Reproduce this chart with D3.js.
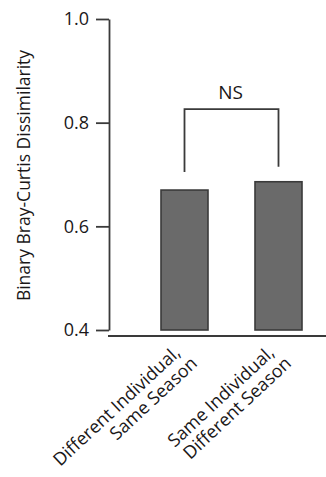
<!DOCTYPE html>
<html>
<head>
<meta charset="utf-8">
<script src="https://cdn.jsdelivr.net/npm/d3@7"></script>
<style>
  html, body { margin: 0; padding: 0; background: #fff; }
  svg { display: block; font-family: "Open Sans", "Noto Sans", sans-serif; font-weight: 500; }
</style>
</head>
<body>
<svg id="chart" width="326" height="477"></svg>
<script>
// Group labels (each split into two lines) and their mean dissimilarity
const categories = ["Different Individual, Same Season", "Same Individual, Different Season"];
const labelLines = [["Different Individual,", "Same Season"], ["Same Individual,", "Different Season"]];
const values = [0.670, 0.686];
const yTicks = [0.4, 0.6, 0.8, 1.0];
const yLabel = "Binary Bray-Curtis Dissimilarity";
// Significance bracket: top level and where each leg stops
const bracketTop = 0.826;
const bracketLegEnds = [0.705, 0.715];
const bracketLabel = "NS";

const ink = "#1a1718";
const lineCol = "#3a3a3a";
const svg = d3.select("#chart");
const W = 326;

const y = d3.scaleLinear().domain([0.4, 1.0]).range([330, 19]);
const x = d3.scaleBand().domain(categories).range([114, 349])
  .paddingInner(0.5).paddingOuter(0.5);

const axisX = 109;
const baseY = 336;

// y axis
const yAxis = svg.append("g")
  .attr("transform", `translate(${axisX},0)`)
  .call(d3.axisLeft(y).tickValues(yTicks).tickFormat(d3.format(".1f"))
    .tickSize(13).tickSizeOuter(0).tickPadding(7));
yAxis.select(".domain").attr("stroke", lineCol).attr("stroke-width", 1.8);
yAxis.selectAll(".tick line").attr("stroke", lineCol).attr("stroke-width", 1.8);
yAxis.selectAll(".tick text").attr("fill", ink).attr("font-size", 18)
  .attr("font-family", "'Open Sans', sans-serif").attr("font-weight", 500);

// y axis title
svg.append("text")
  .attr("transform", `translate(30,${(y.range()[0] + y.range()[1]) / 2 + 1}) rotate(-90)`)
  .attr("text-anchor", "middle")
  .attr("font-size", 17.5)
  .attr("fill", ink)
  .text(yLabel);

// bars
svg.append("g").selectAll("rect")
  .data(categories)
  .join("rect")
  .attr("x", d => x(d))
  .attr("width", x.bandwidth())
  .attr("y", (d, i) => y(values[i]))
  .attr("height", (d, i) => y(0.4) - y(values[i]))
  .attr("fill", "#6a6a6a")
  .attr("stroke", "#3a3a3a")
  .attr("stroke-width", 1.6);

// baseline under the bars
svg.append("line")
  .attr("x1", axisX - 1).attr("x2", W)
  .attr("y1", baseY).attr("y2", baseY)
  .attr("stroke", lineCol).attr("stroke-width", 1.8);

// category labels, rotated
const lab = svg.append("g").selectAll("text")
  .data(categories)
  .join("text")
  .attr("transform", d => `translate(${x(d) + x.bandwidth() / 2 - 3},${baseY + 18}) rotate(-43)`)
  .attr("text-anchor", "end")
  .attr("font-size", 18)
  .attr("fill", ink);
lab.each(function(d, i) {
  const t = d3.select(this);
  labelLines[i].forEach((ln, j) => {
    t.append("tspan").attr("x", j ? 5 : 0).attr("y", j ? "1.08em" : 0).text(ln);
  });
});

// significance bracket
const cx = categories.map(d => x(d) + x.bandwidth() / 2);
const path = d3.path();
path.moveTo(cx[0], y(bracketLegEnds[0]));
path.lineTo(cx[0], y(bracketTop));
path.lineTo(cx[1], y(bracketTop));
path.lineTo(cx[1], y(bracketLegEnds[1]));
svg.append("path")
  .attr("d", path.toString())
  .attr("fill", "none")
  .attr("stroke", lineCol)
  .attr("stroke-width", 1.8);

svg.append("text")
  .attr("x", (cx[0] + cx[1]) / 2 - 1)
  .attr("y", y(bracketTop) - 10)
  .attr("text-anchor", "middle")
  .attr("font-size", 19)
  .attr("fill", ink)
  .text(bracketLabel);
</script>
</body>
</html>
